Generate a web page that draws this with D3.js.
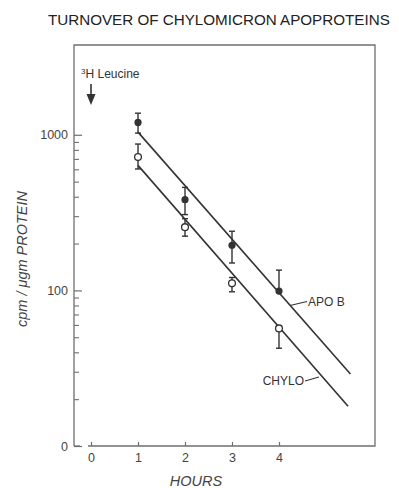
<!DOCTYPE html>
<html>
<head>
<meta charset="utf-8">
<script src="https://cdn.jsdelivr.net/npm/d3@7"></script>
<style>
  html, body { margin: 0; padding: 0; background: #fff; }
  svg { display: block; font-family: "Liberation Sans", Arial, sans-serif; }
</style>
</head>
<body>
<svg id="chart" width="399" height="488"></svg>
<script>
// ---- data ----
const hours = [1, 2, 3, 4];
const apoB      = [1200, 383, 195, 99];
const apoBHigh  = [1377, 459, 240, 135];
const apoBLow   = [1025, 307, 150, null];
const chylo     = [719, 255, 111, 57];
const chyloHigh = [872, 289, 121, null];
const chyloLow  = [603, 223, 98, 42.5];
const fitHours      = [1, 5.52];
const apoBFit       = [1040, 29];
const chyloFitHours = [1, 5.47];
const chyloFit      = [636, 18];
const xTickValues = [0, 1, 2, 3, 4];
const yMajorTicks = [10, 100, 1000];
const yMajorLabels = ["0", "100", "1000"];
const yMinorTicks = [20, 30, 40, 50, 60, 70, 80, 90, 200, 300, 400, 500, 600, 700, 800, 900];

// ---- layout ----
const svg = d3.select("#chart");
const L = 74, R = 375, T = 45, B = 446;
const ink = "#333", frameCol = "#6f6f6f";

const x = d3.scaleLinear().domain([-0.362, 6.043]).range([L, R]);
const y = d3.scaleLog().domain([10, 3776]).range([B, T]);

// title
svg.append("text")
  .attr("x", 48).attr("y", 25)
  .attr("font-size", 15.2).attr("fill", "#222")
  .text("TURNOVER OF CHYLOMICRON APOPROTEINS");

// frame
const frame = svg.append("g").attr("stroke", frameCol).attr("stroke-width", 1.3).attr("fill", "none");
frame.append("path").attr("d", `M${L},${B} L${L},${T} L${R},${T} L${R},${B} L88,${B}`);
frame.append("path").attr("d", `M${L},${B} L80,${B}`);

// y axis (ticks point inward)
const yAxisMajor = d3.axisLeft(y).tickValues(yMajorTicks)
  .tickFormat((d, i) => yMajorLabels[i]).tickSizeInner(-8).tickSizeOuter(0).tickPadding(6);
const gy = svg.append("g").attr("transform", `translate(${L},0)`).call(yAxisMajor);
gy.select(".domain").remove();
gy.selectAll("line").attr("stroke", frameCol).attr("stroke-width", 1.2);
gy.selectAll("text").attr("font-size", 12.5).attr("fill", "#444").attr("font-family", "Liberation Sans, Arial, sans-serif");

const yAxisMinor = d3.axisLeft(y).tickValues(yMinorTicks).tickFormat("").tickSizeInner(-5).tickSizeOuter(0);
const gy2 = svg.append("g").attr("transform", `translate(${L},0)`).call(yAxisMinor);
gy2.select(".domain").remove();
gy2.selectAll("line").attr("stroke", frameCol).attr("stroke-width", 1.1);

// x axis (ticks point up)
const xAxis = d3.axisBottom(x).tickValues(xTickValues).tickFormat(d3.format("d"))
  .tickSizeInner(-4).tickSizeOuter(0).tickPadding(7);
const gx = svg.append("g").attr("transform", `translate(0,${B})`).call(xAxis);
gx.select(".domain").remove();
gx.selectAll("line").attr("stroke", frameCol).attr("stroke-width", 1.2);
gx.selectAll("text").attr("font-size", 12.5).attr("fill", "#444").attr("font-family", "Liberation Sans, Arial, sans-serif");

// axis titles
svg.append("text")
  .attr("x", 196).attr("y", 486)
  .attr("text-anchor", "middle").attr("font-size", 14.5).attr("font-style", "italic").attr("fill", "#444")
  .text("HOURS");
svg.append("text")
  .attr("transform", "translate(27,259) rotate(-90)")
  .attr("text-anchor", "middle").attr("font-size", 14.5).attr("font-style", "italic").attr("fill", "#444")
  .text("cpm / \u03BCgm  PROTEIN");

// 3H Leucine annotation + arrow
const ann = svg.append("text").attr("x", 81).attr("y", 78).attr("font-size", 12).attr("fill", "#333");
ann.append("tspan").attr("font-size", 8).attr("dy", -4).text("3");
ann.append("tspan").attr("dy", 4).text("H Leucine");
const ax = x(0);
svg.append("line").attr("x1", ax).attr("x2", ax).attr("y1", 84).attr("y2", 97)
  .attr("stroke", ink).attr("stroke-width", 1.6);
svg.append("path").attr("d", `M${ax - 4.5},94 L${ax + 4.5},94 L${ax},105 Z`).attr("fill", ink);

// fitted lines
const line = d3.line().x(d => x(d[0])).y(d => y(d[1]));
svg.append("path").datum(fitHours.map((h, i) => [h, apoBFit[i]]))
  .attr("d", line).attr("stroke", ink).attr("stroke-width", 1.6).attr("fill", "none");
svg.append("path").datum(chyloFitHours.map((h, i) => [h, chyloFit[i]]))
  .attr("d", line).attr("stroke", ink).attr("stroke-width", 1.6).attr("fill", "none");

// error bars
function errorBars(hi, lo, mid) {
  const g = svg.append("g").attr("stroke", ink).attr("stroke-width", 1.4);
  hours.forEach((h, i) => {
    const cx = x(h);
    const top = hi[i] != null ? hi[i] : mid[i];
    const bot = lo[i] != null ? lo[i] : mid[i];
    g.append("line").attr("x1", cx).attr("x2", cx).attr("y1", y(top)).attr("y2", y(bot));
    if (hi[i] != null) g.append("line").attr("x1", cx - 3).attr("x2", cx + 3).attr("y1", y(hi[i])).attr("y2", y(hi[i]));
    if (lo[i] != null) g.append("line").attr("x1", cx - 3).attr("x2", cx + 3).attr("y1", y(lo[i])).attr("y2", y(lo[i]));
  });
}
errorBars(apoBHigh, apoBLow, apoB);
errorBars(chyloHigh, chyloLow, chylo);

// points
svg.append("g").selectAll("circle").data(hours).join("circle")
  .attr("cx", d => x(d)).attr("cy", (d, i) => y(apoB[i])).attr("r", 3.6)
  .attr("fill", ink);
svg.append("g").selectAll("circle").data(hours).join("circle")
  .attr("cx", d => x(d)).attr("cy", (d, i) => y(chylo[i])).attr("r", 3.4)
  .attr("fill", "#fff").attr("stroke", ink).attr("stroke-width", 1.3);

// series labels with leader lines
svg.append("line").attr("x1", 290).attr("y1", 305.5).attr("x2", 307).attr("y2", 301.5)
  .attr("stroke", ink).attr("stroke-width", 1.1);
svg.append("text").attr("x", 308).attr("y", 306).attr("font-size", 12).attr("fill", "#333").text("APO B");
svg.append("line").attr("x1", 305).attr("y1", 381).attr("x2", 319).attr("y2", 377)
  .attr("stroke", ink).attr("stroke-width", 1.1);
svg.append("text").attr("x", 304).attr("y", 385).attr("text-anchor", "end")
  .attr("font-size", 12).attr("fill", "#333").text("CHYLO");
</script>
</body>
</html>
